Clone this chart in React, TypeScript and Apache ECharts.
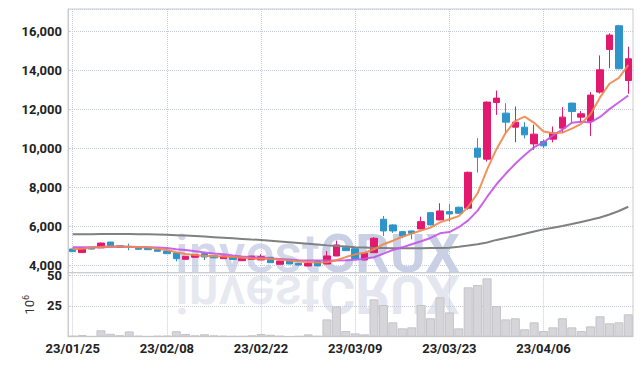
import React, { useEffect, useRef } from "react";
import * as echarts from "echarts";

const dates = [
  "23/01/25", "23/01/26", "23/01/27", "23/01/30", "23/01/31",
  "23/02/01", "23/02/02", "23/02/03", "23/02/06", "23/02/07",
  "23/02/08", "23/02/09", "23/02/10", "23/02/13", "23/02/14",
  "23/02/15", "23/02/16", "23/02/17", "23/02/20", "23/02/21",
  "23/02/22", "23/02/23", "23/02/24", "23/02/27", "23/02/28",
  "23/03/02", "23/03/03", "23/03/06", "23/03/07", "23/03/08",
  "23/03/09", "23/03/10", "23/03/13", "23/03/14", "23/03/15",
  "23/03/16", "23/03/17", "23/03/20", "23/03/21", "23/03/22",
  "23/03/23", "23/03/24", "23/03/27", "23/03/28", "23/03/29",
  "23/03/30", "23/03/31", "23/04/03", "23/04/04", "23/04/05",
  "23/04/06", "23/04/07", "23/04/10", "23/04/11", "23/04/12",
  "23/04/13", "23/04/14", "23/04/17", "23/04/18", "23/04/19",
];

const opens = [
  4836, 4650, 4920, 4890, 5190, 5000, 4955, 4887, 4890, 4800,
  4733, 4630, 4308, 4410, 4595, 4500, 4338, 4420, 4236, 4300,
  4272, 4410, 4051, 4272, 4100, 3964, 4220, 4067, 4477, 4903,
  4851, 4272, 4646, 6359, 6067, 5723, 5759, 5862, 6697, 6323,
  6749, 6974, 6923, 10000, 9436, 12338, 11795, 11077, 11077, 10220,
  10340, 10462, 11026, 12308, 11590, 11385, 12872, 15059, 16272, 13467,
];
const closes = [
  4700, 4870, 4830, 5140, 4940, 4920, 4950, 4820, 4800, 4718,
  4595, 4338, 4462, 4543, 4425, 4380, 4477, 4300, 4374, 4470,
  4441, 4133, 4220, 4067, 4015, 4100, 3964, 4477, 5041, 4749,
  4338, 4615, 5385, 5759, 5759, 5503, 5641, 6236, 6067, 6785,
  6630, 6667, 8764, 9538, 12359, 12564, 11333, 11333, 10682, 10718,
  10118, 10770, 11590, 11877, 11759, 12718, 14015, 15795, 14067, 14579,
];
const lows = [
  4680, 4640, 4820, 4880, 4930, 4900, 4770, 4790, 4780, 4700,
  4580, 4205, 4300, 4400, 4270, 4370, 4330, 4290, 4220, 4290,
  4260, 4120, 4040, 4050, 4000, 3950, 3950, 4060, 4470, 4740,
  4330, 4250, 4640, 5503, 5660, 5385, 5333, 5850, 6050, 6310,
  6236, 6650, 6850, 8749, 9313, 11708, 10770, 10308, 10500, 9913,
  10000, 10300, 10770, 11282, 11360, 10630, 12800, 14100, 14050, 12785,
];
const highs = [
  4850, 4890, 4930, 5160, 5200, 5010, 5110, 4900, 4900, 4810,
  4740, 4640, 4470, 4560, 4610, 4510, 4490, 4430, 4390, 4490,
  4564, 4420, 4230, 4280, 4110, 4220, 4230, 4733, 5262, 4960,
  4860, 4630, 5440, 6528, 6100, 5730, 5770, 6492, 6720, 7179,
  7128, 7000, 8800, 10513, 12400, 12954, 12308, 12135, 11333, 11200,
  10450, 11108, 12100, 12330, 11900, 12872, 14749, 15882, 16320, 15195,
];

const ma5 = [
  4820, 4850, 4900, 4940, 4960, 4960, 4950, 4930, 4920, 4850,
  4785, 4667, 4580, 4528, 4477, 4470, 4450, 4420, 4380, 4350,
  4330, 4330, 4290, 4250, 4200, 4170, 4140, 4150, 4260, 4420,
  4560, 4640, 4820, 5080, 5260, 5460, 5620, 5780, 5930, 6200,
  6360, 6520, 7000, 7690, 8900, 9950, 10800, 11400, 11620, 11300,
  10850, 10770, 10800, 11000, 11250, 11750, 12600, 13300, 13600, 14250,
];
const ma20 = [
  4920, 4920, 4930, 4940, 4950, 4950, 4950, 4940, 4930, 4910,
  4880, 4820, 4780, 4720, 4660, 4600, 4560, 4500, 4450, 4410,
  4380, 4350, 4320, 4290, 4260, 4250, 4240, 4240, 4250, 4260,
  4280, 4340, 4410, 4600, 4780, 4920, 5080, 5230, 5400, 5640,
  5700, 5950, 6300, 6800, 7500, 8150, 8700, 9200, 9650, 10050,
  10300, 10650, 10950, 11300, 11350, 11320, 11600, 12000, 12350, 12700,
];
const ma60 = [
  5590, 5590, 5595, 5600, 5600, 5600, 5600, 5595, 5590, 5580,
  5560, 5540, 5520, 5500, 5470, 5440, 5410, 5380, 5350, 5320,
  5300, 5260, 5220, 5180, 5140, 5100, 5060, 5020, 4990, 4960,
  4930, 4910, 4890, 4880, 4870, 4870, 4870, 4870, 4880, 4890,
  4900, 4950, 5010, 5080, 5170, 5300, 5400, 5500, 5620, 5730,
  5840, 5920, 6010, 6110, 6220, 6330, 6450, 6600, 6780, 7000,
];

const volumes = [
  0.8, 1.4, 0.5, 5.2, 2.4, 1.2, 4.3, 0.8, 0.5, 0.8,
  0.9, 4.4, 2.2, 1.1, 2.0, 1.1, 0.8, 0.6, 0.6, 1.1,
  2.2, 1.6, 0.8, 0.4, 0.6, 1.9, 0.7, 14.1, 24.7, 4.6,
  2.7, 1.9, 30.4, 25.8, 11.7, 6.8, 7.6, 25.8, 15.0, 32.0,
  19.8, 6.8, 40.2, 42.1, 47.5, 25.0, 14.1, 15.0, 6.0, 11.7,
  4.6, 7.6, 15.0, 7.6, 4.6, 8.4, 16.6, 10.9, 11.7, 18.2,
];

const UP = "#e2196e";
const DOWN = "#2d95c9";
const GRID_LINE = "#c6c9d9";
const FONT = "Roboto, sans-serif";

export default function App() {
  const ref = useRef<HTMLDivElement>(null);

  useEffect(() => {
    if (!ref.current) return;
    const chart = echarts.init(ref.current, undefined, { renderer: "svg" });

    const candleData = opens.map((o, i) => [o, closes[i], lows[i], highs[i]]);

    const wmRich = (fillA: string, fillB: string) => ({
      a: { fontSize: 54, fontFamily: "Roboto", fontWeight: 500, fill: fillA },
      b: { fontSize: 54, fontFamily: "Roboto", fontWeight: "bold", fill: fillB },
    });

    const option: any = {
      animation: false,
      backgroundColor: "#fff",
      graphic: [
        {
          type: "text",
          z: 0,
          silent: true,
          x: 175,
          y: 280,
          style: {
            text: "{a|invest}{b|CRUX}",
            verticalAlign: "bottom",
            rich: wmRich("#d2d7ea", "#c9d0e6"),
          },
        },
        {
          type: "group",
          z: 0,
          silent: true,
          originX: 0,
          originY: 273.5,
          scaleY: -1,
          children: [
            {
              type: "text",
              silent: true,
              x: 175,
              y: 280,
              style: {
                text: "{a|invest}{b|CRUX}",
                verticalAlign: "bottom",
                rich: wmRich("#e7e9f0", "#e4e6ef"),
              },
            },
          ],
        },
      ],
      grid: [
        { left: 68, right: 9, top: 9, height: 263.7, show: true, borderColor: "#cccccc", borderWidth: 1, backgroundColor: "transparent" },
        { left: 68, right: 9, top: 272.7, height: 64, show: true, borderColor: "#cccccc", borderWidth: 1, backgroundColor: "transparent" },
      ],
      xAxis: [
        {
          type: "category",
          gridIndex: 0,
          data: dates,
          boundaryGap: true,
          axisLine: { show: true, lineStyle: { color: "#cccccc" } },
          axisTick: { show: false },
          axisLabel: { show: false },
          splitLine: { show: true, interval: 9, alignWithLabel: true, lineStyle: { color: GRID_LINE, type: "dotted", width: 1 } },
        },
        {
          type: "category",
          gridIndex: 1,
          data: dates,
          boundaryGap: true,
          axisLine: { show: true, lineStyle: { color: "#cccccc" } },
          axisTick: { show: false },
          axisLabel: { interval: 9, color: "#222", fontSize: 13, fontWeight: "bold", fontFamily: FONT, margin: 5 },
          splitLine: { show: true, interval: 9, alignWithLabel: true, lineStyle: { color: GRID_LINE, type: "dotted", width: 1 } },
        },
      ],
      yAxis: [
        {
          type: "value",
          gridIndex: 0,
          min: 3620,
          max: 17130,
          splitNumber: 7,
          minInterval: 2000,
          maxInterval: 2000,
          axisLine: { show: true, lineStyle: { color: "#cccccc" } },
          axisTick: { show: true, inside: true, length: 3, lineStyle: { color: "#cccccc" } },
          axisLabel: {
            showMinLabel: false,
            showMaxLabel: false,
            color: "#222",
            fontSize: 13,
            fontWeight: "bold",
            fontFamily: FONT,
            margin: 6,
            formatter: (v: number) => v.toLocaleString("en-US"),
          },
          splitLine: { show: true, lineStyle: { color: GRID_LINE, type: "dotted", width: 1 } },
        },
        {
          type: "value",
          gridIndex: 1,
          min: 0,
          max: 52.1,
          interval: 25,
          name: "{n|10}{s|6}",
          nameLocation: "middle",
          nameRotate: 90,
          nameGap: 17,
          nameTextStyle: {
            rich: {
              n: { fontSize: 13, color: "#333", fontFamily: FONT },
              s: { fontSize: 9, color: "#333", fontFamily: FONT, padding: [0, 0, 8, 0] },
            },
          },
          axisLine: { show: true, lineStyle: { color: "#cccccc" } },
          axisTick: { show: true, inside: true, length: 3, lineStyle: { color: "#cccccc" } },
          axisLabel: {
            showMinLabel: false,
            showMaxLabel: false,
            color: "#222",
            fontSize: 13,
            fontWeight: "bold",
            fontFamily: FONT,
            margin: 6,
          },
          splitLine: { show: true, lineStyle: { color: GRID_LINE, type: "dotted", width: 1 } },
        },
      ],
      series: [
        {
          type: "candlestick",
          xAxisIndex: 0,
          yAxisIndex: 0,
          data: candleData,
          barWidth: 7,
          itemStyle: { color: UP, color0: DOWN, borderColor: UP, borderColor0: DOWN, borderWidth: 1 },
        },
        {
          type: "line",
          xAxisIndex: 0,
          yAxisIndex: 0,
          data: ma60,
          showSymbol: false,
          lineStyle: { color: "#808080", width: 2 },
          z: 3,
        },
        {
          type: "line",
          xAxisIndex: 0,
          yAxisIndex: 0,
          data: ma20,
          showSymbol: false,
          lineStyle: { color: "#c553e6", width: 2, opacity: 0.9 },
          z: 3,
        },
        {
          type: "line",
          xAxisIndex: 0,
          yAxisIndex: 0,
          data: ma5,
          showSymbol: false,
          lineStyle: { color: "#f0864a", width: 2, opacity: 0.9 },
          z: 3,
        },
        {
          type: "bar",
          xAxisIndex: 1,
          yAxisIndex: 1,
          data: volumes,
          barCategoryGap: "4%",
          itemStyle: { color: "#d6d6da", borderColor: "#c4c4c8", borderWidth: 1 },
        },
      ],
    };

    chart.setOption(option);
    return () => chart.dispose();
  }, []);

  return <div ref={ref} style={{ width: 642, height: 366, margin: -8 }} />;
}
